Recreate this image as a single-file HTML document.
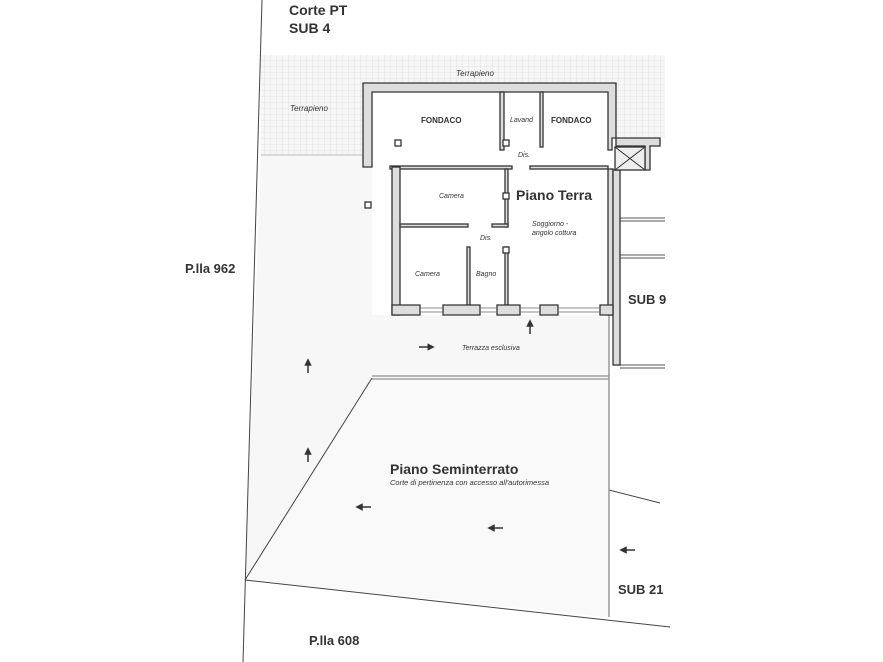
<!DOCTYPE html>
<html><head><meta charset="utf-8"><style>html,body{margin:0;padding:0;background:#fff}svg{display:block}</style></head><body>
<svg width="883" height="662" viewBox="0 0 883 662" xmlns="http://www.w3.org/2000/svg" font-family="Liberation Sans, sans-serif">
<defs>
<pattern id="g" width="6" height="6" patternUnits="userSpaceOnUse"><rect width="6" height="6" fill="#f6f6f6"/><path d="M0 0H6M0 0V6" stroke="#d8d8d8" stroke-width="0.6"/></pattern>
<marker id="a" viewBox="0 0 10 10" refX="5" refY="5" markerWidth="5" markerHeight="5" orient="auto"><path d="M0 0L10 5L0 10z" fill="#333"/></marker>
</defs>
<path d="M261 55H665V138H616V83H363V155H261Z" fill="url(#g)"/>
<path d="M261 155H363V167H372V377H609V617L245 580Z" fill="#f7f7f7"/>
<path d="M372 315H609V377H372Z" fill="#f7f7f7"/>
<path d="M372 379H609V617L245 580Z" fill="#f9f9f9"/>
<g stroke="#444" stroke-width="1" fill="none">
<path d="M262 0L243 662"/>
<path d="M245 580L670 627"/>
<path d="M245 580L372 378"/>
<path d="M609 490L660 503"/>
<path d="M372 376H609M372 379H609" stroke="#777"/>
<path d="M609 315V617" stroke="#999" stroke-width="1.5"/>
<path d="M261 155H363" stroke="#bbb"/>
<path d="M620 218H665M620 221H665M620 255H665M620 258H665M620 365H665M620 368H665" stroke="#555"/>
</g>
<g fill="#fff" stroke="#333" stroke-width="1.3">
<path d="M363 83H616V138H612V150H608V92H372V167H363Z" fill="#ddd"/>
<rect x="500" y="92" width="4" height="58" fill="#ddd"/>
<rect x="540" y="92" width="3" height="55" fill="#ddd"/>
<rect x="390" y="166" width="122" height="3" fill="#ddd"/>
<rect x="530" y="166" width="78" height="3" fill="#ddd"/>
<rect x="392" y="167" width="8" height="148" fill="#ddd"/>
<rect x="505" y="169" width="3" height="58" fill="#ddd"/>
<rect x="400" y="224" width="68" height="3" fill="#ddd"/>
<rect x="492" y="224" width="16" height="3" fill="#ddd"/>
<rect x="467" y="247" width="3" height="58" fill="#ddd"/>
<rect x="505" y="247" width="3" height="58" fill="#ddd"/>
<rect x="608" y="169" width="5" height="146" fill="#ddd"/>
<rect x="613" y="170" width="7" height="195" fill="#ddd"/>
<path d="M392 305H420V315H392Z" fill="#ddd"/>
<path d="M443 305H480V315H443Z" fill="#ddd"/>
<path d="M497 305H520V315H497Z" fill="#ddd"/>
<path d="M540 305H558V315H540Z" fill="#ddd"/>
<path d="M600 305H613V315H600Z" fill="#ddd"/>
<path d="M616 138H660V146H650V170H645V146H616Z" fill="#ddd"/>
<rect x="615" y="147" width="30" height="23" fill="#eee"/>
<rect x="395" y="140" width="6" height="6"/>
<rect x="503" y="140" width="6" height="6"/>
<rect x="503" y="193" width="6" height="6"/>
<rect x="503" y="247" width="6" height="6"/>
<rect x="365" y="202" width="6" height="6"/>
</g>
<path d="M615 147L645 170M645 147L615 170" stroke="#333" stroke-width="1"/>
<path d="M420 308H443M420 312H443M480 308H497M480 312H497M520 308H540M520 312H540M558 308H600M558 312H600" stroke="#666" stroke-width="0.8"/>
<g stroke="#333" stroke-width="1.5" marker-end="url(#a)">
<path d="M308 373V362"/><path d="M308 462V451"/><path d="M530 334V323"/>
<path d="M419 347H431"/><path d="M371 507H359"/><path d="M503 528H491"/><path d="M635 550H623"/>
</g>
<g fill="#333">
<text x="289" y="15" font-size="14" font-weight="bold">Corte PT</text>
<text x="289" y="33" font-size="14" font-weight="bold">SUB 4</text>
<text x="456" y="76" font-size="8" font-style="italic">Terrapieno</text>
<text x="290" y="111" font-size="8" font-style="italic">Terrapieno</text>
<text x="421" y="123" font-size="8" font-weight="bold">FONDACO</text>
<text x="510" y="122" font-size="7" font-style="italic">Lavand</text>
<text x="551" y="123" font-size="8" font-weight="bold">FONDACO</text>
<text x="518" y="157" font-size="7" font-style="italic">Dis.</text>
<text x="516" y="200" font-size="14" font-weight="bold">Piano Terra</text>
<text x="439" y="198" font-size="7" font-style="italic">Camera</text>
<text x="532" y="226" font-size="7" font-style="italic">Soggiorno -</text>
<text x="532" y="235" font-size="7" font-style="italic">angolo cottura</text>
<text x="480" y="240" font-size="7" font-style="italic">Dis.</text>
<text x="415" y="276" font-size="7" font-style="italic">Camera</text>
<text x="476" y="276" font-size="7" font-style="italic">Bagno</text>
<text x="185" y="273" font-size="13" font-weight="bold">P.lla 962</text>
<text x="628" y="304" font-size="13" font-weight="bold">SUB 9</text>
<text x="462" y="350" font-size="7" font-style="italic">Terrazza esclusiva</text>
<text x="390" y="474" font-size="14" font-weight="bold">Piano Seminterrato</text>
<text x="390" y="485" font-size="7.5" font-style="italic">Corte di pertinenza con accesso all'autorimessa</text>
<text x="618" y="594" font-size="13" font-weight="bold">SUB 21</text>
<text x="309" y="645" font-size="13" font-weight="bold">P.lla 608</text>
</g>
</svg>
</body></html>
